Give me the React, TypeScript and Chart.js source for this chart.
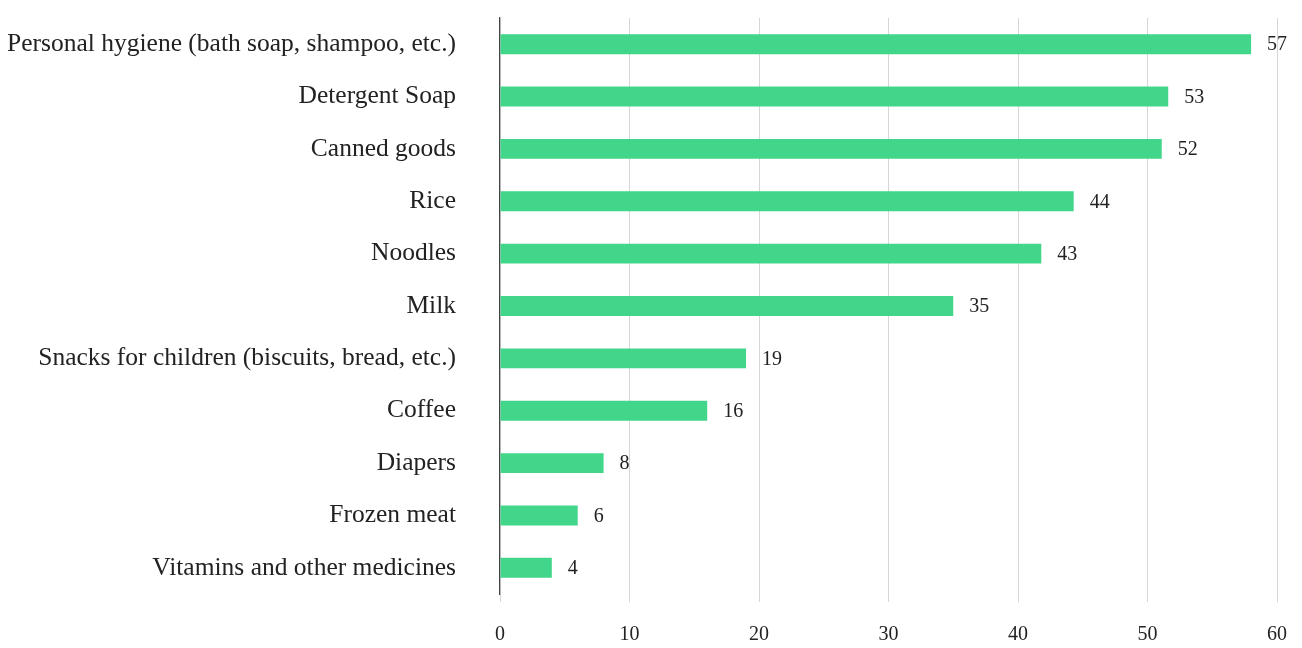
import React, { useEffect, useRef } from "react";
import { Chart, registerables } from "chart.js";

Chart.register(...registerables);

const categories = [
  "Personal hygiene (bath soap, shampoo, etc.)",
  "Detergent Soap",
  "Canned goods",
  "Rice",
  "Noodles",
  "Milk",
  "Snacks for children (biscuits, bread, etc.)",
  "Coffee",
  "Diapers",
  "Frozen meat",
  "Vitamins and other medicines",
];

// bar lengths as drawn in the picture
const barValues = [58, 51.6, 51.1, 44.3, 41.8, 35, 19, 16, 8, 6, 4];
// numbers printed next to bars
const labelValues = ["57", "53", "52", "44", "43", "35", "19", "16", "8", "6", "4"];

const xTicks = [0, 10, 20, 30, 40, 50, 60];

const FONT = "'Liberation Serif', 'DejaVu Serif', serif";

const valueLabelPlugin = {
  id: "valueLabels",
  afterDatasetsDraw(chart: any) {
    const ctx = chart.ctx;
    const meta = chart.getDatasetMeta(0);
    ctx.save();
    ctx.font = `20px ${FONT}`;
    ctx.fillStyle = "#222222";
    ctx.textAlign = "left";
    ctx.textBaseline = "middle";
    meta.data.forEach((bar: any, i: number) => {
      ctx.fillText(labelValues[i], bar.x + 16, bar.y + 1);
    });
    ctx.restore();
  },
};

export default function App() {
  const ref = useRef<HTMLCanvasElement | null>(null);

  useEffect(() => {
    if (!ref.current) return;
    const chart = new Chart(ref.current, {
      type: "bar",
      data: {
        labels: categories,
        datasets: [
          {
            data: barValues,
            backgroundColor: "#42d68a",
            borderWidth: 0,
            barPercentage: 0.38,
            categoryPercentage: 1,
          },
        ],
      },
      options: {
        indexAxis: "y",
        animation: false,
        responsive: false,
        maintainAspectRatio: false,
        layout: { padding: { left: 8, right: 25, top: 18, bottom: 0 } },
        plugins: {
          legend: { display: false },
          tooltip: { enabled: false },
        },
        scales: {
          x: {
            min: 0,
            max: 60,
            afterBuildTicks: (scale: any) => {
              scale.ticks = xTicks.map((v) => ({ value: v }));
            },
            afterFit: (scale: any) => {
              scale.height = 54;
              scale.paddingLeft = 0;
              scale.paddingRight = 0;
            },
            grid: {
              color: "#d6d6d6",
              lineWidth: 1,
              drawTicks: true,
              tickLength: 8,
            },
            border: { display: false },
            ticks: {
              padding: 21,
              color: "#222222",
              font: { family: FONT, size: 20 },
            },
          },
          y: {
            afterFit: (scale: any) => {
              scale.width = 492;
              scale.paddingTop = 0;
              scale.paddingBottom = 0;
            },
            grid: { display: false, drawTicks: false },
            border: { display: true, color: "#444444", width: 1.2 },
            ticks: {
              padding: 44,
              color: "#222222",
              font: { family: FONT, size: 25.5 },
              autoSkip: false,
            },
          },
        },
      },
      plugins: [valueLabelPlugin],
    });
    return () => chart.destroy();
  }, []);

  return (
    <div style={{ position: "fixed", left: 0, top: 0, width: 1302, height: 648, background: "#fff" }}>
      <canvas ref={ref} width={1302} height={648} style={{ width: 1302, height: 648 }} />
    </div>
  );
}
